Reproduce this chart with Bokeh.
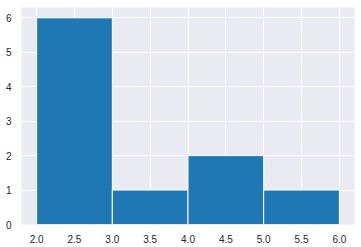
from bokeh.plotting import figure
from bokeh.models import FixedTicker, NumeralTickFormatter, Range1d
from bokeh.embed import file_html
from bokeh.resources import INLINE

bin_left = [2.0, 3.0, 4.0, 5.0]
bin_right = [3.0, 4.0, 5.0, 6.0]
counts = [6, 1, 2, 1]
x_ticks = [2.0, 2.5, 3.0, 3.5, 4.0, 4.5, 5.0, 5.5, 6.0]
y_ticks = [0, 1, 2, 3, 4, 5, 6]

p = figure(width=361, height=247, output_backend="svg", toolbar_location=None,
           x_range=Range1d(1.8, 6.2), y_range=Range1d(0, 6.3),
           min_border_left=21, min_border_right=7, min_border_top=7, min_border_bottom=23)
p.background_fill_color = "#EAEAF2"
p.border_fill_color = "white"
p.outline_line_color = None

p.quad(left=bin_left, right=bin_right, bottom=0, top=counts,
       fill_color="#1f77b4", line_color="white", line_width=1)

for ax in (p.xaxis, p.yaxis):
    ax.axis_line_color = None
    ax.major_tick_line_color = None
    ax.minor_tick_line_color = None
    ax.major_label_text_font = "Liberation Sans"
    ax.major_label_text_font_size = "10px"
    ax.major_label_text_color = "#262626"
p.xaxis.ticker = FixedTicker(ticks=x_ticks)
p.xaxis.formatter = NumeralTickFormatter(format="0.0")
p.yaxis.ticker = FixedTicker(ticks=y_ticks)
p.xaxis.major_label_standoff = 4
p.yaxis.major_label_standoff = 4

p.xgrid.grid_line_color = "white"
p.ygrid.grid_line_color = "white"
p.xgrid.grid_line_width = 1
p.ygrid.grid_line_width = 1
p.grid.level = "underlay"

open("out.html", "w").write(file_html(p, INLINE))
